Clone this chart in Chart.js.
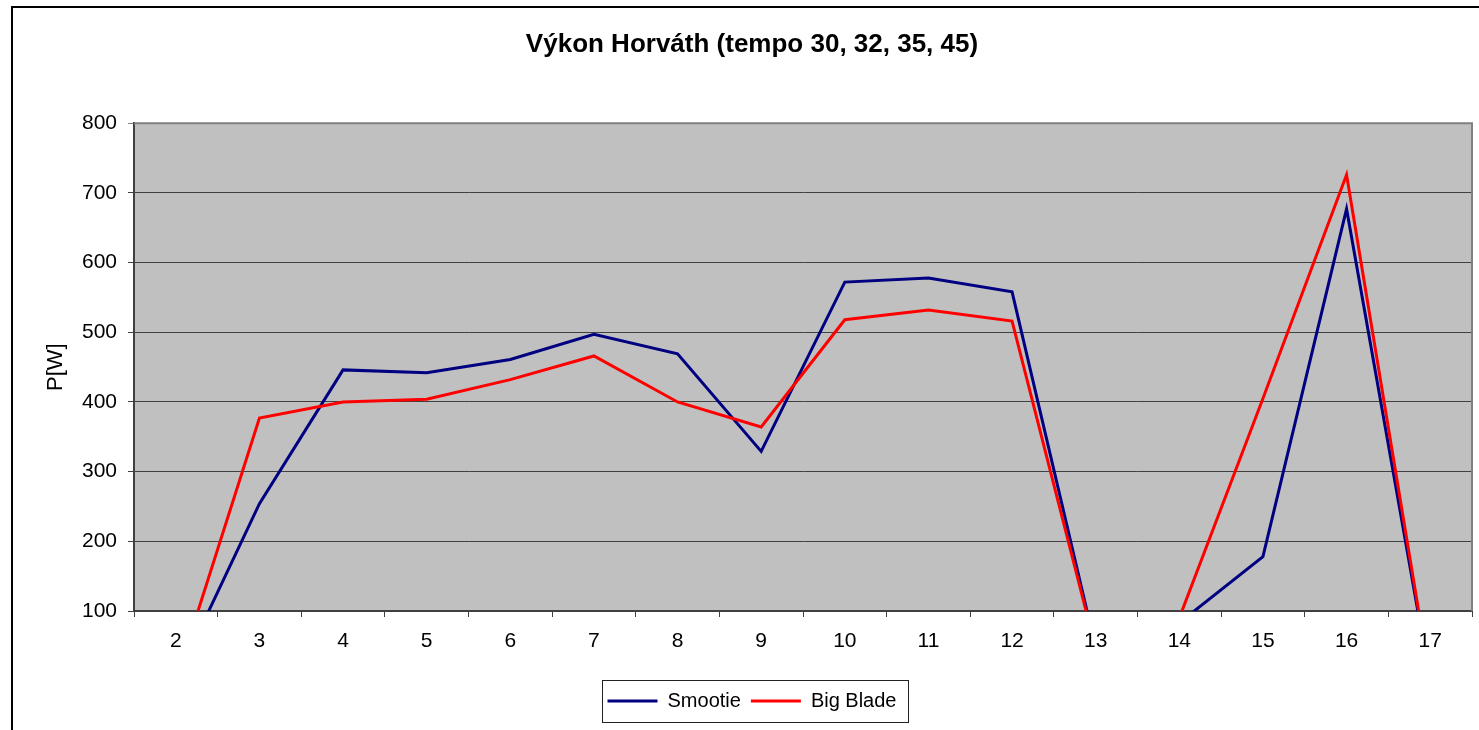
<!DOCTYPE html>
<html>
<head>
<meta charset="utf-8">
<title>Výkon Horváth</title>
<script src="https://cdn.jsdelivr.net/npm/chart.js@4.4.0/dist/chart.umd.min.js"></script>
<style>
  body { margin: 0; background: #fff; overflow: hidden; }
  canvas { display: block; }
</style>
</head>
<body>
<canvas id="grafVykon" width="1479" height="730"></canvas>
<script>
// osa x - kategorie
const kategorie = ['2', '3', '4', '5', '6', '7', '8', '9', '10', '11', '12', '13', '14', '15', '16', '17'];
// namerene vykony [W]
const smootie  = [0, 254, 446, 442, 461, 497, 469, 329, 572, 578, 558, 47, 83, 178, 677, 0];
const bigBlade = [0, 377, 400, 404, 432, 466, 400, 364, 518, 532, 516, 46, 90, 405, 726, 0];
// rozsah osy y
const osaYMin = 100;
const osaYMax = 800;
const osaYKrok = 100;
const nazevGrafu = 'Výkon Horváth (tempo 30, 32, 35, 45)';
const popisOsyY = 'P[W]';

const pismo = "'Liberation Sans', Arial, sans-serif";
const barvaMrizky = '#404040';

// pozadi, ramecky a ramecek legendy
const ramecky = {
  id: 'ramecky',
  beforeDraw(chart) {
    const ctx = chart.ctx;
    const a = chart.chartArea;
    ctx.save();
    ctx.fillStyle = '#fff';
    ctx.fillRect(0, 0, chart.width, chart.height);
    ctx.strokeStyle = '#000';
    ctx.lineWidth = 2;
    ctx.strokeRect(12, 7, chart.width + 20, chart.height + 20);
    ctx.fillStyle = '#c0c0c0';
    ctx.fillRect(a.left, a.top, a.right - a.left, a.bottom - a.top);
    ctx.restore();
  },
  beforeDatasetsDraw(chart) {
    const ctx = chart.ctx;
    const a = chart.chartArea;
    ctx.save();
    ctx.strokeStyle = '#808080';
    ctx.lineWidth = 2;
    ctx.beginPath();
    ctx.moveTo(a.left, a.top);
    ctx.lineTo(a.right, a.top);
    ctx.lineTo(a.right, a.bottom);
    ctx.stroke();
    ctx.restore();
  },
  afterDraw(chart) {
    const boxy = chart.legend.legendHitBoxes;
    if (!boxy || !boxy.length) return;
    let l = Infinity, r = -Infinity, stred = 0;
    boxy.forEach(b => {
      l = Math.min(l, b.left);
      r = Math.max(r, b.left + b.width);
      stred = b.top + b.height / 2;
    });
    const ctx = chart.ctx;
    ctx.save();
    ctx.strokeStyle = '#222';
    ctx.lineWidth = 1;
    ctx.strokeRect(Math.round(l - 6) + 0.5, Math.round(stred - 21) + 0.5, Math.round(r - l + 17), 42);
    ctx.restore();
  }
};

new Chart(document.getElementById('grafVykon'), {
  type: 'line',
  data: {
    labels: kategorie,
    datasets: [
      {
        label: 'Smootie',
        data: smootie,
        borderColor: '#000080',
        backgroundColor: '#000080',
        borderWidth: 3,
        borderJoinStyle: 'miter',
        pointRadius: 0,
        tension: 0,
        order: 1
      },
      {
        label: 'Big Blade',
        data: bigBlade,
        borderColor: '#ff0000',
        backgroundColor: '#ff0000',
        borderWidth: 3,
        borderJoinStyle: 'miter',
        pointRadius: 0,
        tension: 0,
        order: 0
      }
    ]
  },
  options: {
    responsive: false,
    animation: false,
    layout: { padding: { left: 32, right: 7, top: 0, bottom: 9 } },
    scales: {
      x: {
        offset: true,
        grid: { offset: true, drawOnChartArea: false, drawTicks: true, tickLength: 6, color: barvaMrizky },
        border: { color: barvaMrizky, width: 2 },
        ticks: { color: '#000', padding: 12, maxRotation: 0, font: { family: pismo, size: 21 } },
        afterFit(scale) { scale.height = 70; }
      },
      y: {
        min: osaYMin,
        max: osaYMax,
        ticks: { stepSize: osaYKrok, color: '#000', padding: 11, font: { family: pismo, size: 21 } },
        grid: {
          color: ctx => ctx.tick && ctx.tick.value === osaYMax ? '#808080' : barvaMrizky,
          lineWidth: 1,
          tickLength: 6
        },
        border: { color: barvaMrizky, width: 2 },
        title: {
          display: true,
          text: popisOsyY,
          color: '#000',
          padding: { top: 11, bottom: 0 },
          font: { family: pismo, size: 22 }
        },
        afterFit(scale) { scale.width = 102; }
      }
    },
    plugins: {
      title: {
        display: true,
        text: nazevGrafu,
        color: '#000',
        font: { family: pismo, size: 26, weight: 'bold' },
        padding: { top: 29, bottom: 63 }
      },
      legend: {
        position: 'bottom',
        labels: {
          color: '#000',
          boxWidth: 50,
          boxHeight: 3,
          padding: 10,
          font: { family: pismo, size: 20 },
          sort: (a, b) => a.datasetIndex - b.datasetIndex,
          generateLabels(chart) {
            return Chart.defaults.plugins.legend.labels.generateLabels(chart)
              .map(p => Object.assign(p, { lineWidth: 0 }));
          }
        }
      },
      tooltip: { enabled: false }
    }
  },
  plugins: [ramecky]
});
</script>
</body>
</html>
